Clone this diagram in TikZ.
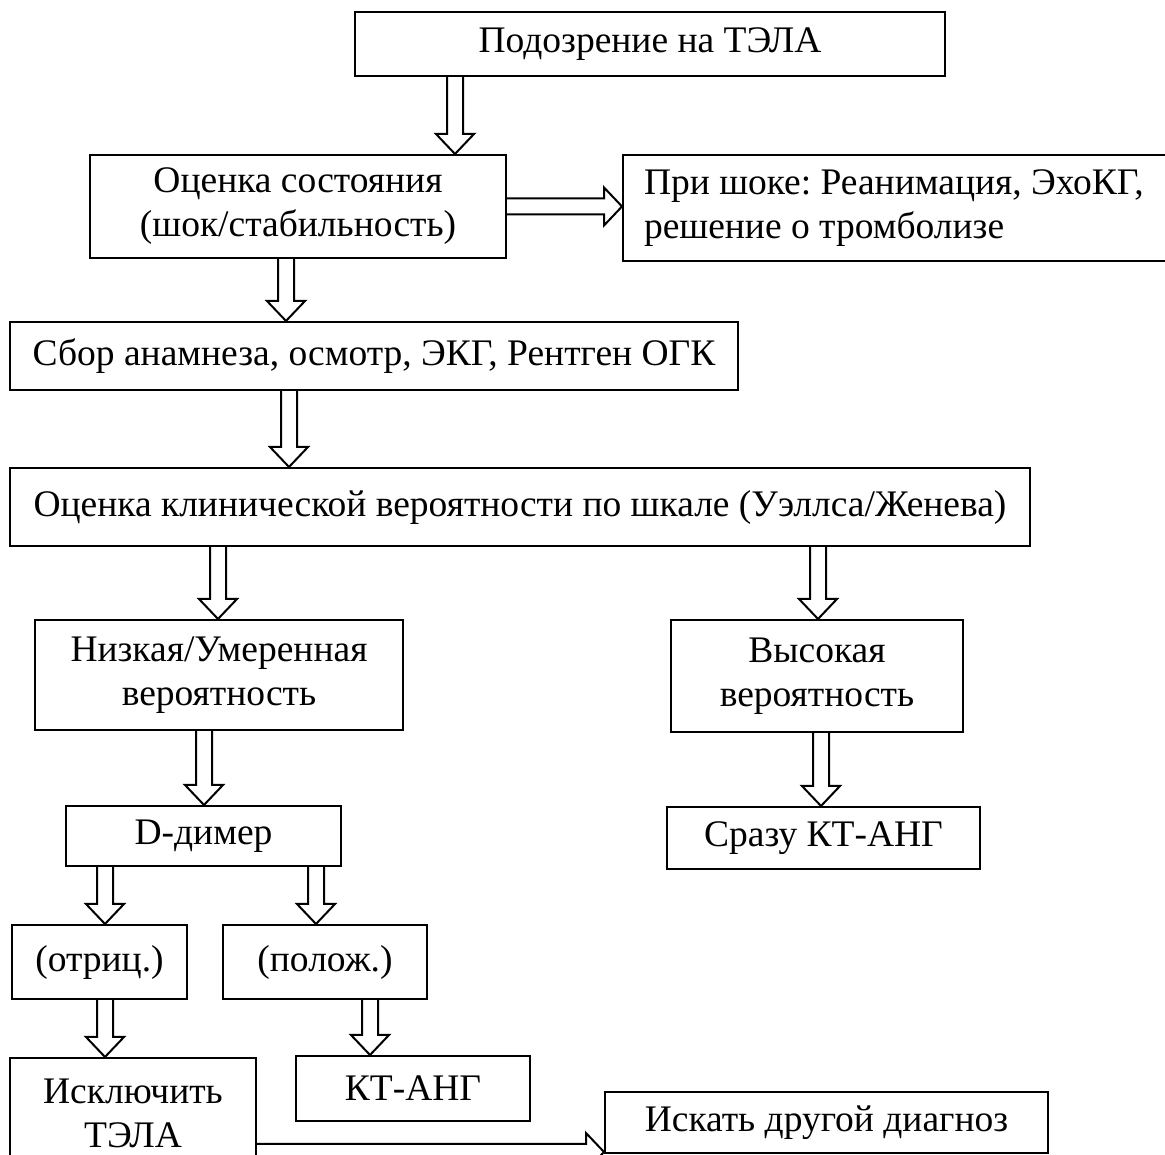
\documentclass[tikz,border=0pt]{standalone}
\usepackage{fontspec}
\setmainfont{Liberation Serif}
\usetikzlibrary{calc}
\frenchspacing

\begin{document}
\begin{tikzpicture}[x=1pt,y=1pt,
  box/.style={draw,line width=2pt,inner sep=0pt,align=center,
    font=\fontsize{37.5}{44}\selectfont},
  darr/.style={draw,line width=2pt,line join=miter,
    to path={let \p1=(\tikztostart), \p2=(\tikztotarget) in
      (\x1-8pt,\y1) -- (\x1-8pt,\y2+20pt) -- (\x1-19pt,\y2+20pt) -- (\x1,\y2)
      -- (\x1+19pt,\y2+20pt) -- (\x1+8pt,\y2+20pt) -- (\x1+8pt,\y1)}},
  rarr/.style={draw,line width=2pt,line join=miter,
    to path={let \p1=(\tikztostart), \p2=(\tikztotarget) in
      (\x1,\y1+8pt) -- (\x2-18pt,\y1+8pt) -- (\x2-18pt,\y1+19pt) -- (\x2,\y1)
      -- (\x2-18pt,\y1-19pt) -- (\x2-18pt,\y1-8pt) -- (\x1,\y1-8pt)}}]
\useasboundingbox (0,0) rectangle (1165,1155);
\clip (0,0) rectangle (1165,1155);

% boxes
\node[box,minimum width=590,minimum height=64] (susp) at (650,1111) {Подозрение на ТЭЛА};
\node[box,minimum width=416,minimum height=103] (state) at (298,948.5) {Оценка состояния\\(шок/стабильность)};
\node[box,anchor=west,align=flush left,text width=540pt,inner xsep=21pt,minimum height=106] (shock) at (622,947)
  {При шоке: Реанимация, ЭхоКГ,\\решение о тромболизе};
\node[box,minimum width=728,minimum height=68] (hist) at (374,799) {Сбор анамнеза, осмотр, ЭКГ, Рентген ОГК};
\node[box,minimum width=1020,minimum height=78] (score) at (520,648) {Оценка клинической вероятности по шкале (Уэллса/Женева)};
\node[box,minimum width=368,minimum height=110] (low) at (219,480) {Низкая/Умеренная\\вероятность};
\node[box,minimum width=292,minimum height=112] (high) at (817,479) {Высокая\\вероятность};
\node[box,minimum width=275,minimum height=60] (ddim) at (203.5,319) {D-димер};
\node[box,minimum width=313,minimum height=62] (ctnow) at (823.5,317) {Сразу КТ-АНГ};
\node[box,minimum width=175,minimum height=74] (neg) at (99.5,193) {(отриц.)};
\node[box,minimum width=204,minimum height=74] (pos) at (325,193) {(полож.)};
\node[box,minimum width=246,minimum height=110] (excl) at (133,42) {Исключить\\ТЭЛА};
\node[box,minimum width=234,minimum height=65] (ct) at (413,66.5) {КТ-АНГ};
\node[box,minimum width=443,minimum height=61] (other) at (826.5,32.5) {Искать другой диагноз};

% arrows
\draw[darr] ([xshift=-195pt]susp.south) to (state.north);
\draw[rarr] (state.east) to (shock.west);
\draw[darr] ([xshift=-12pt]state.south) to (hist.north);
\draw[darr] ([xshift=-85pt]hist.south) to (score.north);
\draw[darr] ([xshift=-302pt]score.south) to (low.north);
\draw[darr] ([xshift=298pt]score.south) to (high.north);
\draw[darr] ([xshift=-15pt]low.south) to (ddim.north);
\draw[darr] ([xshift=4pt]high.south) to (ctnow.north);
\draw[darr] ([xshift=-98.5pt]ddim.south) to (neg.north);
\draw[darr] ([xshift=112.5pt]ddim.south) to (pos.north);
\draw[darr] ([xshift=5.5pt]neg.south) to (excl.north);
\draw[darr] ([xshift=45pt]pos.south) to (ct.north);
\draw[rarr] ([yshift=-39pt]excl.east) to ([yshift=-39pt]excl.east -| other.west);
\end{tikzpicture}
\end{document}
